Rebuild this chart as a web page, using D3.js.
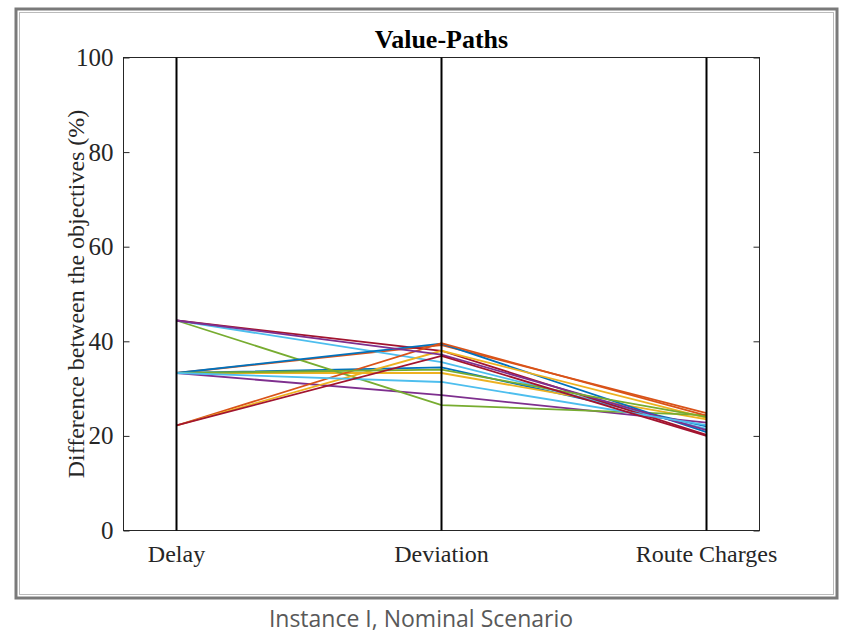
<!DOCTYPE html>
<html>
<head>
<meta charset="utf-8">
<script src="https://cdn.jsdelivr.net/npm/d3@7"></script>
<style>
  body { margin: 0; background: #fff; }
  svg { display: block; }
  .tick text { font-family: "Liberation Serif", "Times New Roman", serif; }
</style>
</head>
<body>
<svg width="842" height="636"></svg>
<script>
// Objectives (parallel axes)
const objectives = ["Delay", "Deviation", "Route Charges"];

// One value-path per solution: difference between objectives (%)
const delayValues     = [33.3, 33.3, 33.3, 33.3, 44.4, 44.4, 44.4, 33.3, 22.2, 22.2, 44.4, 33.3, 33.3, 22.2];
const deviationValues = [34.5, 39.2, 33.3, 28.6, 26.5, 35.6, 38.0, 39.5, 39.6, 38.0, 37.2, 34.0, 31.4, 36.9];
const chargeValues    = [22.0, 24.8, 23.5, 22.8, 24.4, 21.5, 20.2, 20.8, 24.3, 23.8, 21.2, 24.0, 22.3, 20.0];

const yTicks = [0, 20, 40, 60, 80, 100];

// MATLAB default colour order
const palette = ["#0072BD", "#D95319", "#EDB120", "#7E2F8E", "#77AC30", "#4DBEEE", "#A2142F"];

let svg = d3.select("svg");

// outer picture frame
svg.append("rect")
    .attr("x", 16).attr("y", 9)
    .attr("width", 821).attr("height", 589)
    .attr("fill", "none")
    .attr("stroke", "#7a7a7a")
    .attr("stroke-width", 3);
svg.append("rect")
    .attr("x", 19.5).attr("y", 12.5)
    .attr("width", 814).attr("height", 582)
    .attr("fill", "none")
    .attr("stroke", "#bbbbbb")
    .attr("stroke-width", 1);

const plotLeft = 123.5, plotRight = 759.5, plotTop = 57.5, plotBottom = 530.5;

let x = d3.scaleLinear().domain([0.8, 3.2]).range([plotLeft, plotRight]);
let y = d3.scaleLinear().domain([0, 100]).range([plotBottom, plotTop]);

// build rows from arrays
let rows = delayValues.map((d, i) => [d, deviationValues[i], chargeValues[i]]);

// axes box
svg.append("rect")
    .attr("x", plotLeft).attr("y", plotTop)
    .attr("width", plotRight - plotLeft).attr("height", plotBottom - plotTop)
    .attr("fill", "none")
    .attr("stroke", "#262626")
    .attr("stroke-width", 1);

// left axis with ticks inside
let yAxis = svg.append("g")
    .attr("transform", `translate(${plotLeft},0)`)
    .call(d3.axisLeft(y).tickValues(yTicks).tickSizeInner(-6).tickSizeOuter(0).tickPadding(10));
yAxis.select(".domain").remove();
yAxis.selectAll("line").attr("stroke", "#262626");
yAxis.selectAll("text")
    .attr("font-size", 25)
    .attr("fill", "#262626");

// mirrored ticks on the right
let yAxisR = svg.append("g")
    .attr("transform", `translate(${plotRight},0)`)
    .call(d3.axisRight(y).tickValues(yTicks).tickSizeInner(-6).tickSizeOuter(0).tickFormat(""));
yAxisR.select(".domain").remove();
yAxisR.selectAll("line").attr("stroke", "#262626");

// category labels
svg.selectAll("text.cat")
    .data(objectives)
    .enter().append("text")
    .attr("class", "cat")
    .attr("x", (d, i) => x(i + 1))
    .attr("y", 562)
    .attr("text-anchor", "middle")
    .attr("font-family", "Liberation Serif, Times New Roman, serif")
    .attr("font-size", 24)
    .attr("fill", "#262626")
    .text(d => d);

// value paths
let line = d3.line()
    .x((d, i) => x(i + 1))
    .y(d => y(d));

svg.selectAll("path.vp")
    .data(rows)
    .enter().append("path")
    .attr("class", "vp")
    .attr("d", line)
    .attr("fill", "none")
    .attr("stroke", (d, i) => palette[i % palette.length])
    .attr("stroke-width", 1.8);

// vertical coordinate lines
svg.selectAll("line.coord")
    .data(objectives)
    .enter().append("line")
    .attr("class", "coord")
    .attr("x1", (d, i) => x(i + 1))
    .attr("x2", (d, i) => x(i + 1))
    .attr("y1", plotTop)
    .attr("y2", plotBottom)
    .attr("stroke", "#000")
    .attr("stroke-width", 2);

// title
svg.append("text")
    .attr("x", (plotLeft + plotRight) / 2)
    .attr("y", 48)
    .attr("text-anchor", "middle")
    .attr("font-family", "Liberation Serif, Times New Roman, serif")
    .attr("font-weight", "bold")
    .attr("font-size", 26)
    .text("Value-Paths");

// y label
svg.append("text")
    .attr("transform", `translate(84,${(plotTop + plotBottom) / 2}) rotate(-90)`)
    .attr("text-anchor", "middle")
    .attr("font-family", "Liberation Serif, Times New Roman, serif")
    .attr("font-size", 24)
    .attr("fill", "#262626")
    .text("Difference between the objectives (%)");

// caption under the figure
svg.append("text")
    .attr("x", 421)
    .attr("y", 627)
    .attr("text-anchor", "middle")
    .attr("font-family", "Open Sans, Noto Sans, sans-serif")
    .attr("font-size", 23)
    .attr("fill", "#595959")
    .text("Instance I, Nominal Scenario");
</script>
</body>
</html>
